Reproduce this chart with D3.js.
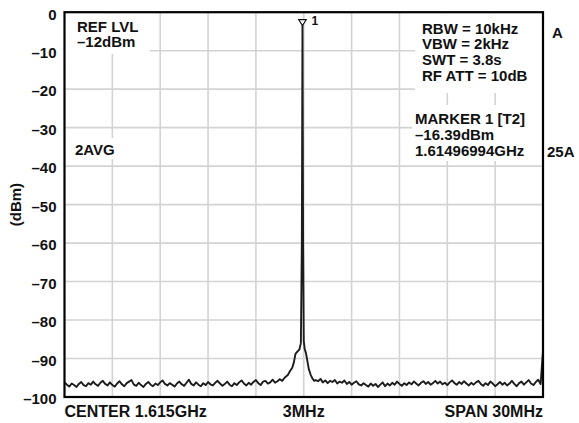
<!DOCTYPE html>
<html>
<head>
<meta charset="utf-8">
<script src="https://cdn.jsdelivr.net/npm/d3@7"></script>
<style>
  html, body { margin: 0; padding: 0; background: #fff; }
  svg { display: block; }
  text { font-family: "Liberation Sans", Arial, Helvetica, sans-serif; font-weight: bold; fill: #111; }
</style>
</head>
<body>
<svg id="chart" width="579" height="423"></svg>
<script>
// ---------------- data ----------------
const yTicks = [0, -10, -20, -30, -40, -50, -60, -70, -80, -90, -100];
const xDomainMHz = [-15, 15];
const xGridMHz = [-12, -9, -6, -3, 0, 3, 6, 9, 12];
const xLabels = ["CENTER 1.615GHz", "3MHz", "SPAN 30MHz"];

const stepMHz = 0.15;
const leftStartMHz = -15.0;
const leftFloor = [
  -96.2,-96.8,-97.3,-96.5,-96.9,-97.4,-96.6,-96.1,-96.9,-97.2,
  -96.4,-96.8,-96.0,-96.7,-97.1,-96.3,-95.8,-96.6,-97.0,-96.2,
  -96.9,-97.3,-96.5,-95.9,-96.7,-97.2,-96.4,-96.0,-95.6,-96.8,
  -97.1,-96.3,-96.9,-97.4,-96.6,-96.1,-96.8,-97.2,-96.5,-96.9,
  -96.2,-95.7,-96.6,-97.0,-96.4,-96.8,-97.3,-96.5,-96.0,-96.7,
  -97.1,-96.3,-95.5,-96.6,-97.0,-96.2,-96.8,-97.2,-96.4,-96.9,
  -96.1,-96.7,-97.0,-96.3,-95.8,-96.5,-97.1,-96.6,-96.0,-96.8,
  -97.2,-96.4,-96.9,-96.2,-95.7,-96.5,-97.0,-96.3,-96.8,-96.1,
  -95.6,-96.4,-96.9,-96.0,-95.8,-96.5,-96.2,-95.5,-96.3,-95.9,
  -95.4,-95.8
];
const skirtMHz   = [-1.2, -1.0, -0.85, -0.72, -0.62, -0.52, -0.4, -0.27, -0.18, -0.12, -0.08, -0.04, 0.0, 0.06, 0.14, 0.22, 0.32, 0.44, 0.56, 0.66];
const skirtLevel = [-95.0, -94.3, -93.2, -92.4, -91.0, -88.8, -88.2, -87.6, -86.0, -60.0, -3.5, -60.0, -85.5, -87.5, -88.6, -90.5, -92.8, -94.3, -95.3, -95.8];
const rightStartMHz = 0.75;
const rightFloor = [
  -95.6,-95.9,-95.3,-96.2,-95.7,-96.4,-95.8,-96.1,-95.6,-96.5,
  -96.0,-96.3,-95.7,-96.6,-96.1,-96.8,-96.3,-95.9,-96.7,-97.0,
  -96.4,-96.9,-97.3,-96.5,-97.1,-96.6,-97.4,-96.8,-96.2,-97.2,
  -96.5,-97.0,-96.3,-96.8,-96.0,-96.6,-97.1,-96.4,-96.9,-96.2,
  -96.7,-96.0,-96.5,-97.0,-96.3,-95.9,-96.6,-96.1,-96.8,-96.4,
  -95.8,-96.5,-96.0,-96.7,-96.3,-96.9,-96.2,-95.7,-96.4,-96.8,
  -96.1,-96.6,-95.9,-96.5,-97.0,-96.3,-96.8,-96.2,-95.8,-96.6,
  -97.1,-96.4,-96.9,-96.0,-96.5,-97.2,-96.7,-96.1,-96.8,-96.3,
  -97.0,-96.5,-95.8,-96.6,-97.2,-96.4,-96.0,-96.8,-96.2,-95.6,
  -96.5,-96.9,-96.1,-95.5,-96.6,-88.0
];
const markerMHz = -0.08, markerLevel = -3.5, markerLabel = "1";

const leftNotes  = ["REF LVL", "–12dBm"];
const avgNote    = "2AVG";
const setupNotes = ["RBW = 10kHz", "VBW = 2kHz", "SWT = 3.8s", "RF ATT = 10dB"];
const markerNotes = ["MARKER 1 [T2]", "–16.39dBm", "1.61496994GHz"];
const sideNotes  = ["A", "25A"];
const yTitle = "(dBm)";

// ---------------- build trace ----------------
const trace = [];
leftFloor.forEach((v, i) => trace.push([leftStartMHz + i * stepMHz, v]));
skirtMHz.forEach((f, i) => trace.push([f, skirtLevel[i]]));
rightFloor.forEach((v, i) => trace.push([rightStartMHz + i * stepMHz, v]));

// ---------------- layout ----------------
const L = 64.5, R = 543, T = 12.2, B = 397;
const svg = d3.select("#chart");
const x = d3.scaleLinear().domain(xDomainMHz).range([L, R]);
const y = d3.scaleLinear().domain([0, -100]).range([T, B]);

// grid
const grid = svg.append("g").attr("stroke", "#d3d3d3").attr("stroke-width", 1.6);
grid.selectAll("line.h").data(yTicks.slice(1, -1)).join("line")
  .attr("x1", L).attr("x2", R).attr("y1", d => y(d)).attr("y2", d => y(d));
grid.selectAll("line.v").data(xGridMHz).join("line")
  .attr("y1", T).attr("y2", B).attr("x1", d => x(d)).attr("x2", d => x(d));

// white boxes behind annotations
const boxes = [
  [L + 1, T + 1, 149 - L, 53 - T],
  [415, T + 1, R - 1 - 415, 92 - T],
  [412, 105, R - 1 - 412, 56],
  [L + 1, 138, 60, 21]
];
svg.append("g").selectAll("rect").data(boxes).join("rect")
  .attr("x", d => d[0]).attr("y", d => d[1]).attr("width", d => d[2]).attr("height", d => d[3])
  .attr("fill", "#fff");

// trace
svg.append("path").datum(trace)
  .attr("fill", "none").attr("stroke", "#1c1c1c").attr("stroke-width", 1.9)
  .attr("stroke-linejoin", "round")
  .attr("d", d3.line().x(d => x(d[0])).y(d => y(d[1])));

// frame
svg.append("rect").attr("x", L).attr("y", T).attr("width", R - L).attr("height", B - T)
  .attr("fill", "none").attr("stroke", "#000").attr("stroke-width", 2.2);

// y axis
const yAxis = d3.axisLeft(y).tickValues(yTicks).tickSize(0).tickPadding(8)
  .tickFormat(d => d === 0 ? "0" : "–" + Math.abs(d));
const ya = svg.append("g").attr("transform", `translate(${L},2)`).call(yAxis);
ya.select(".domain").remove();
ya.selectAll("text").style("font-size", "15px").style("font-family", null).attr("fill", "#111");

// y title
svg.append("text").attr("transform", `translate(21,${(T + B) / 2}) rotate(-90)`)
  .attr("text-anchor", "middle").style("font-size", "15px").text(yTitle);

// x labels
const xl = svg.append("g").style("font-size", "16px");
xl.append("text").attr("x", L).attr("y", 417).attr("text-anchor", "start").text(xLabels[0]);
xl.append("text").attr("x", x(0)).attr("y", 417).attr("text-anchor", "middle").text(xLabels[1]);
xl.append("text").attr("x", R).attr("y", 417).attr("text-anchor", "end").text(xLabels[2]);

// annotations
function block(lines, x0, y0, dy) {
  svg.append("g").style("font-size", "15px").selectAll("text").data(lines).join("text")
    .attr("x", x0).attr("y", (d, i) => y0 + i * dy).text(d => d);
}
block(leftNotes, 77, 31.5, 15.9);
block([avgNote], 75, 155, 0);
block(setupNotes, 422, 33.5, 15.9);
block(markerNotes, 415, 124, 16.2);
block([sideNotes[0]], 552, 37.5, 0);
block([sideNotes[1]], 547, 156.5, 0);

// marker
const mx = x(markerMHz), my = y(markerLevel);
svg.append("path")
  .attr("d", `M${mx - 3.8},${my - 6} L${mx + 3.8},${my - 6} L${mx},${my} Z`)
  .attr("fill", "#fff").attr("stroke", "#111").attr("stroke-width", 1.1);
svg.append("text").attr("x", mx + 9).attr("y", my - 0.5).style("font-size", "12px").text(markerLabel);
</script>
</body>
</html>
